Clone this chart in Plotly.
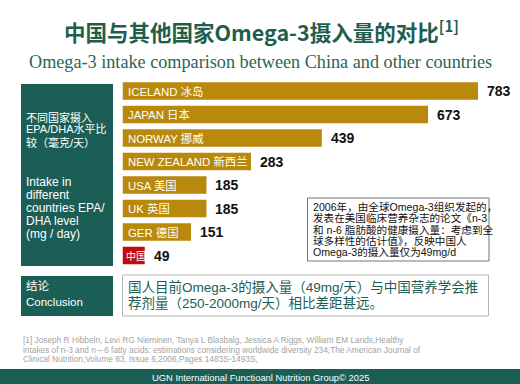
import plotly.graph_objects as go

# ---- data ----
countries = ["ICELAND 冰岛", "JAPAN 日本", "NORWAY 挪威", "NEW ZEALAND 新西兰",
             "USA 美国", "UK 英国", "GER 德国", "中国"]
intake_mg = [783, 673, 439, 283, 185, 185, 151, 49]
highlight = "中国"

title_text = "中国与其他国家Omega-3摄入量的对比<sup>[1]</sup>"
subtitle_text = "Omega-3 intake comparison between China and other countries"
side_cn = ["不同国家摄入", "EPA/DHA水平比", "较（毫克/天）"]
side_en = ["Intake in", "different", "countries EPA/", "DHA level", "(mg / day)"]
note_lines = ["2006年，由全球Omega-3组织发起的，",
              "发表在美国临床营养杂志的论文《n-3",
              "和 n-6 脂肪酸的健康摄入量：考虑到全",
              "球多样性的估计值》，反映中国人",
              "Omega-3的摄入量仅为49mg/d"]
concl_label = ["结论", "Conclusion"]
concl_lines = ["国人目前Omega-3的摄入量（49mg/天）与中国营养学会推",
               "荐剂量（250-2000mg/天）相比差距甚远。"]
ref_lines = ["[1] Joseph R Hibbeln, Levi RG Nieminen, Tanya L Blasbalg, Jessica A Riggs, William EM Lands,Healthy",
             "intakes of n-3 and n－6 fatty acids: estimations considering worldwide diversity 234,The American Journal of",
             "Clinical Nutrition,Volume 83, Issue 6,2006,Pages 1483S-1493S,"]
footer_text = "UGN International Functioanl Nutrition Group© 2025"

# ---- style ----
W, H = 520, 384
TEAL = "#1b5e55"
GOLD = "#b8890c"
RED = "#c30d0d"
SANS = "Liberation Sans, Arial, Noto Sans CJK SC, sans-serif"
CJK = "Noto Sans CJK SC, sans-serif"


def px(x):
    return x / W


def py(y):
    return 1 - y / H


bar_colors = [RED if c == highlight else GOLD for c in countries]

fig = go.Figure()
fig.add_trace(go.Bar(
    x=intake_mg, y=countries, orientation="h",
    marker=dict(color=bar_colors, line=dict(width=0)),
    hoverinfo="skip", showlegend=False,
))

annotations = []
for c, v in zip(countries, intake_mg):
    # country name inside the bar
    annotations.append(dict(x=0, y=c, xref="x", yref="y", text=c,
                            showarrow=False, xanchor="left", xshift=3 if c != highlight else 1,
                            font=dict(size=11.4 if c != highlight else 10, color="white", family=SANS)))
    # value label after the bar
    annotations.append(dict(x=v, y=c, xref="x", yref="y", text=str(v),
                            showarrow=False, xanchor="left", xshift=7,
                            font=dict(size=14, color="#111111", family=SANS, weight="bold")))


def txt(x, y, s, size, color, family=SANS, xanchor="left", weight="normal"):
    annotations.append(dict(x=px(x), y=py(y), xref="paper", yref="paper", text=s,
                            showarrow=False, xanchor=xanchor, yanchor="middle",
                            font=dict(size=size, color=color, family=family, weight=weight)))


txt(261, 31, title_text, 21.5, "#1f5e4c", family=CJK, xanchor="center", weight="bold")
txt(260.5, 62, subtitle_text, 18.2, "#2a6656", family="Liberation Serif, Times New Roman, serif",
    xanchor="center")

for i, s in enumerate(side_cn):
    txt(24, 117 + i * 12.5, s, 11, "white")
for i, s in enumerate(side_en):
    txt(24, 182 + i * 12.9, s, 12, "white")
for i, s in enumerate(note_lines):
    txt(311, 207 + i * 11.3, s, 10.6, "#111111")
for i, s in enumerate(concl_label):
    txt(24, 285 + i * 16.5, s, 11.5, "white")
for i, s in enumerate(concl_lines):
    txt(126, 287 + i * 16, s, 13.5, TEAL)
for i, s in enumerate(ref_lines):
    txt(21, 340 + i * 9.5, s, 8.3, "#a3a3a3")
txt(260.5, 377.5, footer_text, 9.4, "white", xanchor="center")

shapes = [
    dict(type="rect", xref="paper", yref="paper", x0=px(21), x1=px(113), y0=py(266), y1=py(84),
         fillcolor=TEAL, line=dict(width=0), layer="below"),
    dict(type="rect", xref="paper", yref="paper", x0=px(21), x1=px(113), y0=py(316), y1=py(276),
         fillcolor=TEAL, line=dict(width=0), layer="below"),
    dict(type="rect", xref="paper", yref="paper", x0=px(122.5), x1=px(488.5), y0=py(316), y1=py(275),
         fillcolor="white", line=dict(width=1, color="#b5b5b5"), layer="below"),
    dict(type="rect", xref="paper", yref="paper", x0=px(307.5), x1=px(489), y0=py(261), y1=py(198),
         fillcolor="white", line=dict(width=1, color="#777777")),
    dict(type="rect", xref="paper", yref="paper", x0=0, x1=1, y0=0, y1=py(369),
         fillcolor=TEAL, line=dict(width=0), layer="below"),
]

fig.update_layout(
    width=W, height=H, margin=dict(l=0, r=0, t=0, b=0),
    paper_bgcolor="white", plot_bgcolor="rgba(0,0,0,0)",
    bargap=0.26,
    xaxis=dict(domain=[px(122.5), 1], range=[0, 875.5], visible=False, fixedrange=True),
    yaxis=dict(domain=[py(267.3), py(79.3)], autorange="reversed", visible=False,
               categoryorder="array", categoryarray=countries, fixedrange=True),
    annotations=annotations, shapes=shapes,
    font=dict(family=SANS),
)

fig.write_html("out.html", config={"displayModeBar": False},
               post_script="document.body.style.margin='0px';document.body.style.padding='0px';"
                           "document.documentElement.style.overflow='hidden';")
